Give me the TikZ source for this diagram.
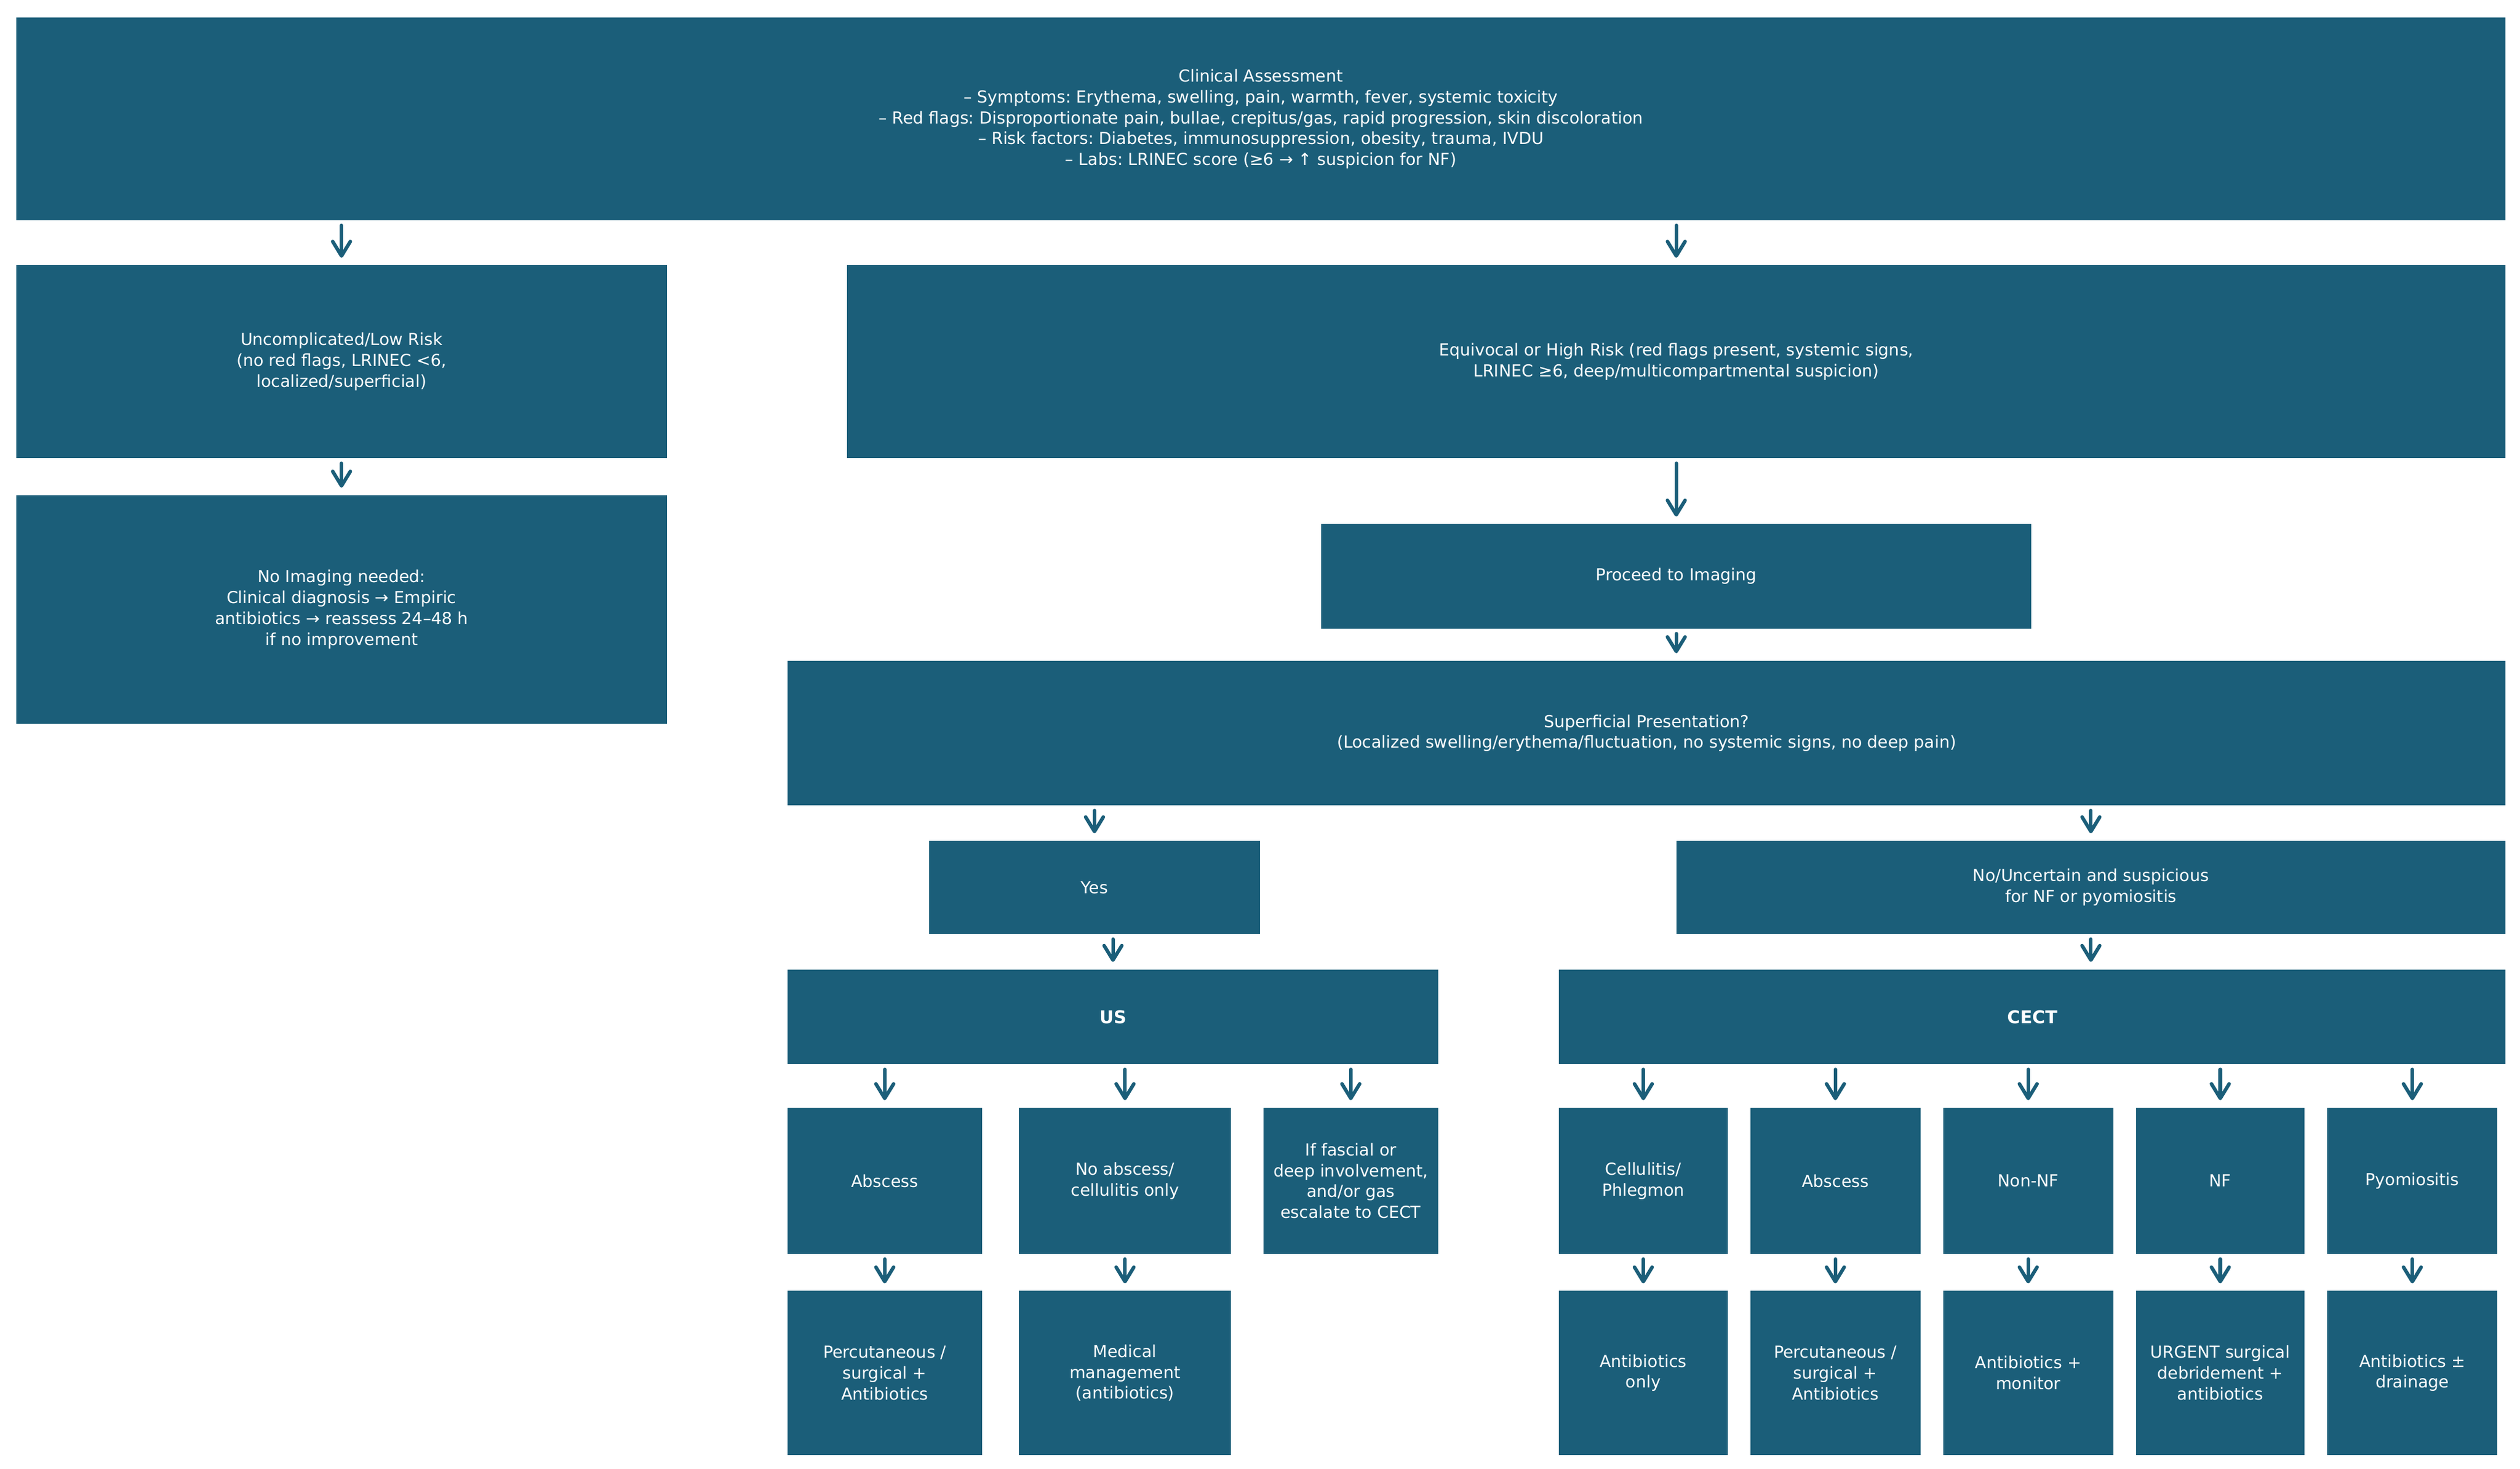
\documentclass[tikz,border=0pt]{standalone}
\usepackage{fontspec}
\setmainfont{DejaVu Sans}
\usetikzlibrary{arrows.meta}
\frenchspacing

\definecolor{boxteal}{RGB}{27,94,121}

\tikzset{
  flowbox/.style={fill=boxteal, text=white, align=center, inner sep=0pt,
    font=\fontsize{10.3}{13}\selectfont},
  modbox/.style={flowbox, font=\fontsize{11}{14}\selectfont\bfseries},
  flowarrow/.style={draw=boxteal, line width=2.2pt, line cap=round,
    -{Straight Barb[length=9pt,width=11pt,round]}, shorten <=3pt, shorten >=4.5pt}
}

\begin{document}
\begin{tikzpicture}[x=1pt,y=1pt,yscale=-1,xscale=1]
\useasboundingbox (0,0) rectangle (1568,913.4);

% Assessment
\node[flowbox, minimum width=1549pt, minimum height=126pt] (assess) at (784.5,74)
  {Clinical Assessment\\
   – Symptoms: Erythema, swelling, pain, warmth, fever, systemic toxicity\\
   – Red flags: Disproportionate pain, bullae, crepitus/gas, rapid progression, skin discoloration\\
   – Risk factors: Diabetes, immunosuppression, obesity, trauma, IVDU\\
   – Labs: LRINEC score (≥6 → ↑ suspicion for NF)};

% Risk split
\node[flowbox, minimum width=405pt, minimum height=120pt] (lowrisk) at (212.5,225)
  {Uncomplicated/Low Risk\\(no red flags, LRINEC <6,\\localized/superficial)};
\node[flowbox, minimum width=1032pt, minimum height=120pt] (highrisk) at (1043,225)
  {Equivocal or High Risk (red flags present, systemic signs,\\LRINEC ≥6, deep/multicompartmental suspicion)};
\node[flowbox, minimum width=405pt, minimum height=142pt] (noimg) at (212.5,379)
  {No Imaging needed:\\Clinical diagnosis → Empiric\\antibiotics → reassess 24–48 h\\if no improvement};
\node[flowbox, minimum width=442pt, minimum height=65pt] (imaging) at (1043,358.5)
  {Proceed to Imaging};

% Presentation
\node[flowbox, minimum width=1069pt, minimum height=90pt] (superf) at (1024.5,456)
  {Superficial Presentation?\\(Localized swelling/erythema/fluctuation, no systemic signs, no deep pain)};
\node[flowbox, minimum width=206pt, minimum height=58pt] (yes) at (681,552) {Yes};
\node[flowbox, minimum width=516pt, minimum height=58pt] (nouncert) at (1301,552)
  {No/Uncertain and suspicious\\for NF or pyomiositis};

% Modalities
\node[modbox, minimum width=405pt, minimum height=59pt] (us) at (692.5,632.5) {US};
\node[modbox, minimum width=589pt, minimum height=59pt] (cect) at (1264.5,632.5) {CECT};

% US findings and management
\node[flowbox, minimum width=121pt, minimum height=91pt] (usabs) at (550.5,734.5) {Abscess};
\node[flowbox, minimum width=132pt, minimum height=91pt] (uscell) at (700,734.5) {No abscess/\\cellulitis only};
\node[flowbox, minimum width=109pt, minimum height=91pt] (usdeep) at (840.5,734.5)
  {If fascial or\\deep involvement,\\and/or gas\\escalate to CECT};
\node[flowbox, minimum width=121pt, minimum height=102pt] (usabsrx) at (550.5,854)
  {Percutaneous /\\surgical +\\Antibiotics};
\node[flowbox, minimum width=132pt, minimum height=102pt] (uscellrx) at (700,854)
  {Medical\\management\\(antibiotics)};

% CECT findings and management
\node[flowbox, minimum width=105pt, minimum height=91pt] (ctcell) at (1022.5,734.5) {Cellulitis/\\Phlegmon};
\node[flowbox, minimum width=106pt, minimum height=91pt] (ctabs) at (1142,734.5) {Abscess};
\node[flowbox, minimum width=106pt, minimum height=91pt] (ctnonnf) at (1262,734.5) {Non-NF};
\node[flowbox, minimum width=105pt, minimum height=91pt] (ctnf) at (1381.5,734.5) {NF};
\node[flowbox, minimum width=106pt, minimum height=91pt] (ctpyo) at (1501,734.5) {Pyomiositis};
\node[flowbox, minimum width=105pt, minimum height=102pt] (ctcellrx) at (1022.5,854) {Antibiotics\\only};
\node[flowbox, minimum width=106pt, minimum height=102pt] (ctabsrx) at (1142,854)
  {Percutaneous /\\surgical +\\Antibiotics};
\node[flowbox, minimum width=106pt, minimum height=102pt] (ctnonnfrx) at (1262,854) {Antibiotics +\\monitor};
\node[flowbox, minimum width=105pt, minimum height=102pt] (ctnfrx) at (1381.5,854)
  {URGENT surgical\\debridement +\\antibiotics};
\node[flowbox, minimum width=106pt, minimum height=102pt] (ctpyorx) at (1501,854) {Antibiotics ±\\drainage};

% Arrows
\draw[flowarrow] (assess.south -| lowrisk) -- (lowrisk.north);
\draw[flowarrow] (assess.south -| highrisk) -- (highrisk.north);
\draw[flowarrow] (lowrisk.south) -- (noimg.north);
\draw[flowarrow] (highrisk.south) -- (imaging.north);
\draw[flowarrow] (imaging.south) -- (imaging.south |- superf.north);
\draw[flowarrow] (superf.south -| yes) -- (yes.north);
\draw[flowarrow] (superf.south -| nouncert) -- (nouncert.north);
\draw[flowarrow] (yes.south -| us) -- (us.north);
\draw[flowarrow] (nouncert.south) -- (nouncert.south |- cect.north);
\foreach \n in {usabs,uscell,usdeep}
  \draw[flowarrow] (us.south -| \n) -- (\n.north);
\foreach \n in {ctcell,ctabs,ctnonnf,ctnf,ctpyo}
  \draw[flowarrow] (cect.south -| \n) -- (\n.north);
\foreach \n in {usabs,uscell,ctcell,ctabs,ctnonnf,ctnf,ctpyo}
  \draw[flowarrow] (\n.south) -- (\n rx.north);

\end{tikzpicture}
\end{document}
